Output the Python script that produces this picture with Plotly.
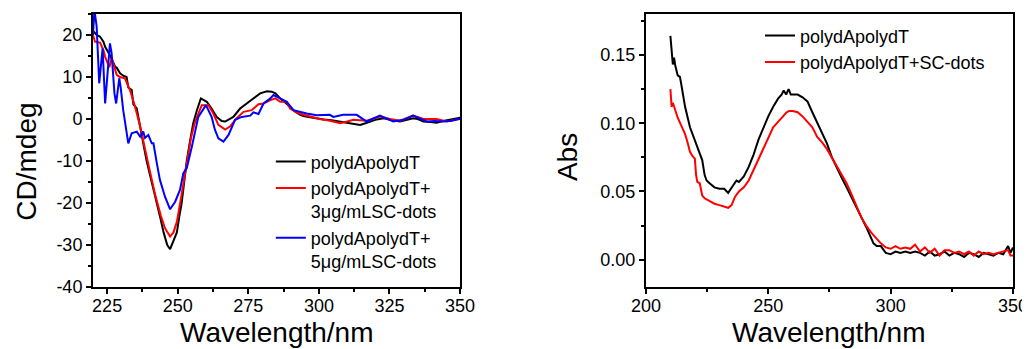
import plotly.graph_objects as go

# ---------------- CD spectra (left panel) ----------------
cd_wl_black = [220, 221.3, 222.5, 223.7, 224.3, 226, 227.8, 228.4, 229.6, 230.7, 231.9, 232.5,
               233.7, 234.3, 235.5, 236.3, 237.8, 239, 240.5, 242.6, 244, 245, 246.3, 247.3,
               248.3, 249.7, 250.5, 251.4, 252.3, 253.2, 254.3, 255.5, 256.8, 258.2, 260.3,
               262, 263.8, 265.6, 266.8, 268, 269.7, 272.1, 274.5, 276.8, 279.2, 281.6, 283.3,
               284.6, 286.3, 288, 289.8, 291.5, 293.4, 294.5, 296.4, 298, 301.6, 304.5, 307.5,
               311, 314.6, 316.5, 318.1, 320.5, 322.9, 325.2, 327, 328.7, 331, 333.4, 335, 337,
               339.5, 341.7, 344, 346.4, 348, 349.4, 350]
cd_black = [21, 20, 19.6, 18.4, 17.2, 15.2, 12.5, 12.2, 10.9, 10.3, 10.0, 7.5,
            6.9, 3.5, 2.5, -0.6, -5.8, -10, -14, -20, -24, -27, -30, -31,
            -29.5, -27, -23.5, -20, -15, -10, -5.5, -1, 2.1, 4.9, 4.1,
            2.5, 0.5, -0.5, -0.6, -0.2, 0.5, 2.5, 3.7, 4.9, 6.1, 6.6, 6.5,
            6.1, 4.9, 4.0, 2.9, 1.8, 1.0, 0.7, 0.5, 0.3, -0.1, -0.3, -0.6,
            -0.9, -1.4, -1.0, -0.6, -0.1, 0.2, -0.2, -0.4, -0.6, -0.2, 0.2, 0.0, -0.6,
            -0.7, -0.9, -0.5, -0.2, 0.1, 0.2, 0.3]

cd_wl_red = [220, 220.7, 222.5, 223.7, 224.3, 225.8, 226.6, 228.4, 229.5, 231.3, 233.1, 234.9,
             236.7, 238.4, 240, 242, 244, 245.5, 247.3, 248.5, 249.7, 251, 252.3, 253.5,
             254.7, 256, 256.8, 258.5, 260.9, 262.6, 264.4, 266.8, 268.5, 270.9, 273.3, 276.2,
             278.6, 280.4, 282.8, 284.6, 286.3, 288.6, 289.8, 292, 294.5, 297, 300.4, 304,
             307.5, 310, 312.2, 316.9, 319, 321.6, 325.2, 328.7, 331, 333.4, 337, 341.7, 345.2,
             348.8, 350]
cd_red = [20, 18.4, 18.2, 16.4, 14.8, 12.3, 14.5, 10.5, 10.0, 9.7, 6.9, 2.9,
          -1.8, -7.4, -12, -18, -23, -26, -28, -27, -24.5, -19.5, -14, -9,
          -4.5, -1, 0.5, 3.3, 3.3, 1.3, -1.4, -2.5, -1.8, 0.2, 1.7, 2.1,
          3.5, 3.7, 4.5, 4.9, 4.1, 4.1, 2.5, 1.6, 1.0, 0.5, 0.0, -0.4,
          -1.0, -0.6, -0.2, -0.4, 0.1, 0.6, 0.0, -0.4, 0.2, 0.8, 0.0, 0.0, -0.6,
          -0.2, 0.0]

cd_wl_blue = [220, 220.5, 221.3, 222.2, 223.4, 224.3, 226, 226.6, 227.6, 228.2, 229.3, 229.8,
              230.7, 231.9, 232.5, 233.7, 235.5, 236.7, 237.8, 238.4, 239.6, 240.8, 241.4,
              242.6, 243.7, 245.5, 247.3, 249.1, 250.8, 252, 253.2, 255, 256.7, 257.3, 260,
              262, 263.2, 264.4, 266.2, 268, 270.3, 272.7, 275.7, 276.8, 278.6, 280.4, 282.8,
              283.9, 286.3, 288.6, 291, 293.3, 295.7, 299.2, 303.9, 305.1, 308.6, 313.4, 316.9,
              321.6, 326.3, 330, 333.4, 338.2, 341, 344.1, 347, 349.4, 350]
cd_blue = [20, 26, 22, 8.5, 16.8, 3.7, 18, 15.6, 6.1, 3.7, 9.7, 7.5,
           2.1, -2.6, -5.8, -3.4, -3.0, -4.2, -3.0, -4.5, -3.8, -5.8, -5.8,
           -10.5, -14.5, -18.5, -21.5, -19.7, -16.9, -12.9, -11.7, -6.6, -1.8, 0.5, 3.3,
           0.5, -2.6, -4.6, -5.4, -3.8, -0.2, 0.5, 0.8, 1.6, 1.2, 3.7, 4.9,
           5.7, 4.9, 4.1, 2.1, 1.7, 1.3, 0.9, 1.0, 0.5, 1.0, 1.0, -0.6,
           0.8, -0.6, -0.2, 0.8, -0.6, -0.5, -0.6, -0.4, 0.0, 0.0]

cd_names = ["polydApolydT", "polydApolydT+<br>3μg/mLSC-dots", "polydApolydT+<br>5μg/mLSC-dots"]
cd_ytick_vals = [-40, -30, -20, -10, 0, 10, 20]
cd_ytick_text = ["-40", "-30", "-20", "-10", "0", "10", "20"]

# ---------------- UV absorbance (right panel) ----------------
abs_wl_black = [210, 210.5, 211, 211.5, 212, 213, 213.9, 214.5, 216, 218, 220, 222.1, 223, 224,
                224.8, 226, 228, 230, 232, 233.6, 235, 236, 237, 238, 240, 242, 244, 246, 248,
                250, 252, 254, 255.5, 256.3, 257.3, 258.3, 259.2, 260, 262, 264, 266, 268, 270,
                272, 274, 276, 278, 280, 282, 284, 286, 288, 290, 292, 293, 294.3, 296, 298, 300,
                302, 304, 306, 308, 310, 312, 314, 316, 318, 320, 322, 324, 326, 328, 330, 332,
                334, 336, 338, 340, 342, 344, 346, 348, 349, 350]
abs_black = [0.164, 0.150, 0.143, 0.148, 0.142, 0.135, 0.134, 0.128, 0.112, 0.097, 0.088, 0.078, 0.073, 0.062,
             0.058, 0.056, 0.053, 0.052, 0.052, 0.049, 0.053, 0.055, 0.058, 0.057, 0.061, 0.068, 0.077, 0.088, 0.097,
             0.105, 0.112, 0.118, 0.121, 0.124, 0.121, 0.125, 0.121, 0.121, 0.121, 0.119, 0.116, 0.108, 0.100,
             0.092, 0.085, 0.075, 0.067, 0.060, 0.053, 0.046, 0.039, 0.031, 0.024, 0.016, 0.012, 0.010, 0.010, 0.005, 0.004,
             0.006, 0.005, 0.006, 0.005, 0.006, 0.005, 0.003, 0.006, 0.003, 0.004, 0.006, 0.003, 0.005, 0.004, 0.002, 0.005,
             0.004, 0.002, 0.005, 0.004, 0.003, 0.005, 0.004, 0.010, 0.005, 0.009]

abs_wl_red = [210, 210.5, 211, 211.5, 212, 213, 214, 215, 216, 217, 218, 219, 220, 220.5, 221,
              222, 223, 224, 226, 228, 230, 232, 233.6, 235, 236.4, 238, 240, 242, 244, 246,
              248, 250, 252, 254, 256, 257.5, 258.5, 260, 262, 264, 266, 268, 270, 272, 274,
              276, 278, 280, 282, 284, 286, 288, 290, 292, 294, 296, 298, 300, 302, 304, 306,
              308, 310, 312, 314, 316, 318, 320, 322, 324, 326, 328, 330, 332, 334, 336, 338,
              340, 342, 344, 346, 348, 349, 350]
abs_red = [0.125, 0.112, 0.115, 0.112, 0.110, 0.104, 0.100, 0.096, 0.092, 0.086, 0.079, 0.076, 0.074, 0.062, 0.057,
           0.056, 0.047, 0.045, 0.043, 0.041, 0.040, 0.039, 0.038, 0.040, 0.046, 0.050, 0.053, 0.058, 0.066, 0.073,
           0.082, 0.090, 0.097, 0.101, 0.105, 0.108, 0.109, 0.109, 0.108, 0.105, 0.101, 0.097, 0.090, 0.086, 0.081,
           0.075, 0.068, 0.063, 0.056, 0.048, 0.039, 0.031, 0.025, 0.020, 0.016, 0.012, 0.009, 0.008, 0.010, 0.008, 0.009,
           0.008, 0.011, 0.006, 0.009, 0.005, 0.008, 0.003, 0.007, 0.007, 0.005, 0.006, 0.004, 0.006, 0.003, 0.006, 0.004,
           0.005, 0.004, 0.005, 0.006, 0.007, 0.003, 0.003]

abs_names = ["polydApolydT", "polydApolydT+SC-dots"]

FONT = "Arial, Liberation Sans, sans-serif"
LW = 2

fig = go.Figure()
for xs, ys, name, col in [(cd_wl_black, cd_black, cd_names[0], "#000000"),
                          (cd_wl_red, cd_red, cd_names[1], "#ff0000"),
                          (cd_wl_blue, cd_blue, cd_names[2], "#0000ff")]:
    fig.add_trace(go.Scatter(x=xs, y=ys, mode="lines", name=name, line=dict(color=col, width=LW),
                             xaxis="x", yaxis="y", legend="legend"))
for xs, ys, name, col in [(abs_wl_black, abs_black, abs_names[0], "#000000"),
                          (abs_wl_red, abs_red, abs_names[1], "#ff0000")]:
    fig.add_trace(go.Scatter(x=xs, y=ys, mode="lines", name=name, line=dict(color=col, width=LW),
                             xaxis="x2", yaxis="y2", legend="legend2"))

axis_common = dict(showline=True, linecolor="black", linewidth=2, mirror=True, ticks="outside",
                   ticklen=5, tickwidth=1.5, tickcolor="black", showgrid=False, zeroline=False,
                   automargin=False,
                   tickfont=dict(family=FONT, size=18, color="black"))

# the page body has an 8px default margin, so the figure is 8px smaller than the window
fig.update_layout(
    width=1022, height=341,
    margin=dict(l=85, r=17, t=6, b=62),
    plot_bgcolor="white", paper_bgcolor="white",
    font=dict(family=FONT, color="black"),
    xaxis=dict(domain=[0, 0.399], range=[220, 350], tick0=225, dtick=25, ticklabelstandoff=-4,
               minor=dict(tick0=225, dtick=12.5, ticks="outside", ticklen=3, tickcolor="black"),
               **axis_common),
    yaxis=dict(range=[-40, 25], tickmode="array", tickvals=cd_ytick_vals, ticktext=cd_ytick_text,
               minor=dict(tick0=0, dtick=5, ticks="outside", ticklen=3, tickcolor="black"),
               **axis_common),
    xaxis2=dict(domain=[0.601, 1], anchor="y2", range=[200, 350], tick0=200, dtick=50, ticklabelstandoff=-4,
                minor=dict(tick0=200, dtick=25, ticks="outside", ticklen=3, tickcolor="black"),
                **axis_common),
    yaxis2=dict(anchor="x2", range=[-0.02, 0.18], tick0=0, dtick=0.05, tickformat=".2f",
                minor=dict(tick0=0, dtick=0.025, ticks="outside", ticklen=3, tickcolor="black"),
                **axis_common),
    legend=dict(x=0.1933, y=0.526, xanchor="left", yanchor="top", bgcolor="rgba(0,0,0,0)",
                font=dict(family=FONT, size=18, color="black"), tracegroupgap=0, valign="top"),
    legend2=dict(x=0.725, y=0.988, xanchor="left", yanchor="top", bgcolor="rgba(0,0,0,0)",
                 font=dict(family=FONT, size=18, color="black"), tracegroupgap=0, valign="top"),
    showlegend=True,
)

title_font = dict(family=FONT, size=28, color="black")
fig.add_annotation(text="Wavelength/nm", xref="paper", yref="paper", x=0.1995, y=-0.168,
                   xanchor="center", yanchor="middle", showarrow=False, font=title_font)
fig.add_annotation(text="Wavelength/nm", xref="paper", yref="paper", x=0.8005, y=-0.168,
                   xanchor="center", yanchor="middle", showarrow=False, font=title_font)
fig.add_annotation(text="CD/mdeg", xref="paper", yref="paper", x=-0.0717, y=0.459,
                   xanchor="center", yanchor="middle", textangle=-90, showarrow=False, font=title_font)
fig.add_annotation(text="Abs", xref="paper", yref="paper", x=0.5166, y=0.477,
                   xanchor="center", yanchor="middle", textangle=-90, showarrow=False, font=title_font)

fig.write_html("out.html")
